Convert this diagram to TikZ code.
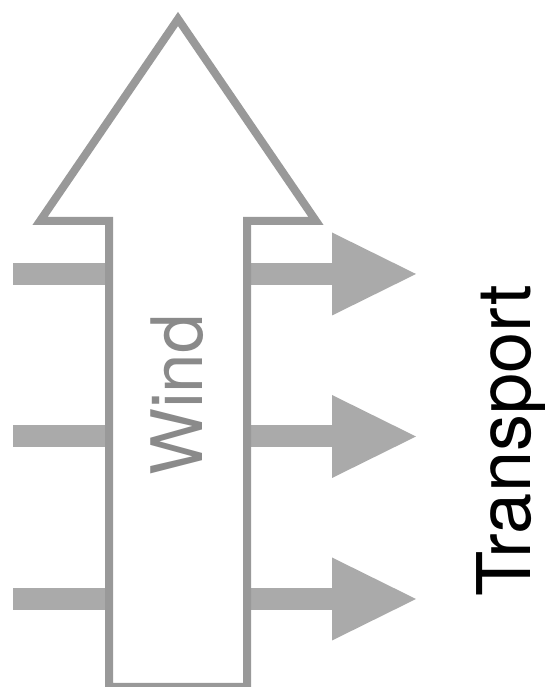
\documentclass[tikz,border=0pt]{standalone}
\usepackage{fontspec}
\setmainfont{TeX Gyre Heros}
\definecolor{edgegray}{HTML}{999999}
\definecolor{flowgray}{HTML}{AAAAAA}
\definecolor{windgray}{HTML}{8A8A8A}
\begin{document}
\begin{tikzpicture}[x=1pt,y=1pt,
  flow/.style={fill=flowgray},
  bigarrow/.style={draw=edgegray, line width=8pt, fill=white, miter limit=10},
  vlabel/.style={rotate=90, anchor=base, inner sep=0pt}]
\useasboundingbox (0,0) rectangle (545,687);
% sideways transport arrows: tails on the left, heads on the right
\foreach \y in {413,250.5,88} {
  \fill[flow] (13,\y-11) rectangle (110,\y+11);
  \fill[flow] (246,\y-11) rectangle (333,\y+11);
  \fill[flow] (332,\y-41.5) -- (416,\y) -- (332,\y+41.5) -- cycle;
}
% large upward wind arrow
\draw[bigarrow] (109,0) -- (109,466) -- (40,466) -- (178,668)
  -- (316,466) -- (247,466) -- (247,0) -- cycle;
\node[vlabel, text=windgray, font=\fontsize{71}{71}\selectfont] (wind) at (202,292) {Wind};
\node[vlabel, text=black, font=\fontsize{74}{74}\selectfont] (transport) at (530,246) {Transport};
\end{tikzpicture}
\end{document}
